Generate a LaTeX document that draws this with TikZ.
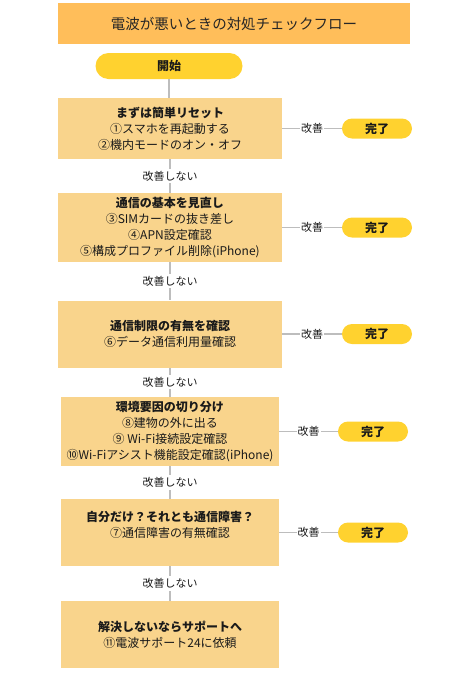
\documentclass[tikz,border=0pt]{standalone}
\usepackage{fontspec}
\setmainfont{Noto Sans CJK JP}
\definecolor{titleC}{HTML}{FFBE5A}
\definecolor{boxC}{HTML}{F9D48C}
\definecolor{pillC}{HTML}{FFD22F}
\definecolor{lineC}{HTML}{BDBDBD}
\definecolor{txtC}{HTML}{1A1A1A}
\tikzset{
 stepbox/.style={fill=boxC, inner sep=0pt, align=center, text=txtC, font=\fontsize{12}{16}\selectfont},
 endpill/.style={fill=pillC, rounded corners=10pt, minimum width=70pt, minimum height=20pt, inner sep=0pt, text=txtC, font=\fontsize{12}{14}\selectfont\bfseries},
 conn/.style={draw=lineC, line width=1.3pt},
 oklab/.style={fill=white, inner sep=1pt, text=txtC, font=\fontsize{11}{12}\selectfont},
 nglab/.style={fill=white, inner sep=2pt, text=txtC, font=\fontsize{11}{13}\selectfont},
}
\begin{document}
\begin{tikzpicture}[x=1pt,y=-1pt]
\useasboundingbox (0,0) rectangle (452,673);
\node[fill=titleC, minimum width=352pt, minimum height=41pt, inner sep=0pt, text=black!85, font=\fontsize{14.5}{16}\selectfont] (title) at (234,23.5) {電波が悪いときの対処チェックフロー};
\node[fill=pillC, rounded corners=13pt, minimum width=147pt, minimum height=26pt, inner sep=0pt, text=txtC, font=\fontsize{12}{14}\selectfont\bfseries] (start) at (169,66) {開始};

\node[stepbox, minimum width=224pt, minimum height=61pt] (b1) at (170,128.5)
 {\textbf{まずは簡単リセット}\\①スマホを再起動する\\②機内モードのオン・オフ};
\node[endpill] (p1) at (377,128.5) {完了};

\node[stepbox, minimum width=224pt, minimum height=69pt] (b2) at (170,227.5)
 {\textbf{通信の基本を見直し}\\③SIMカードの抜き差し\\④APN設定確認\\⑤構成プロファイル削除(iPhone)};
\node[endpill] (p2) at (377,227.5) {完了};

\node[stepbox, minimum width=224pt, minimum height=67pt] (b3) at (170,334)
 {\textbf{通信制限の有無を確認}\\⑥データ通信利用量確認};
\node[endpill] (p3) at (377,334) {完了};

\node[stepbox, minimum width=218pt, minimum height=69pt] (b4) at (170,431.5)
 {\textbf{環境要因の切り分け}\\⑧建物の外に出る\\⑨ Wi-Fi接続設定確認\\⑩Wi-Fiアシスト機能設定確認(iPhone)};
\node[endpill] (p4) at (373,431.5) {完了};

\node[stepbox, minimum width=218pt, minimum height=67pt] (b5) at (170,532.5)
 {\textbf{自分だけ？それとも通信障害？}\\⑦通信障害の有無確認\\\mbox{}};
\node[endpill] (p5) at (373,532.5) {完了};

\node[stepbox, minimum width=218pt, minimum height=67pt] (b6) at (170,634.5)
 {\textbf{解決しないならサポートへ}\\⑪電波サポート24に依頼};

\draw[conn] (start.south) -- (start.south |- b1.north);
\draw[conn] (b1) -- node[nglab]{改善しない} (b2);
\draw[conn] (b2) -- node[nglab]{改善しない} (b3);
\draw[conn] (b3) -- node[nglab]{改善しない} (b4);
\draw[conn] (b4) -- node[nglab]{改善しない} (b5);
\draw[conn] (b5) -- node[nglab]{改善しない} (b6);

\draw[conn] (b1) -- node[oklab]{改善} (p1);
\draw[conn] (b2) -- node[oklab]{改善} (p2);
\draw[conn] (b3) -- node[oklab]{改善} (p3);
\draw[conn] (b4) -- node[oklab]{改善} (p4);
\draw[conn] (b5) -- node[oklab]{改善} (p5);
\end{tikzpicture}
\end{document}
